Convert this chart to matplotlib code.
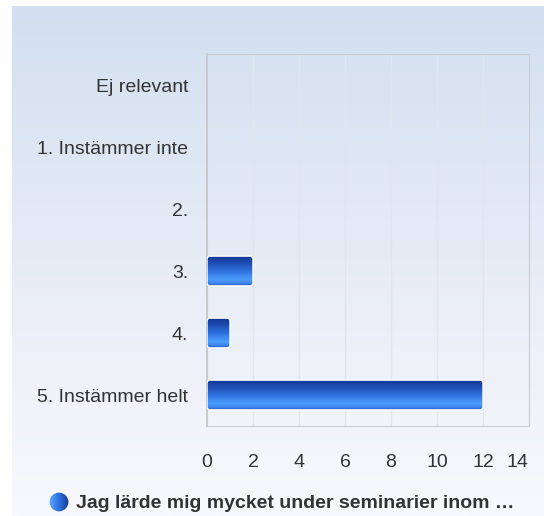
import numpy as np
import matplotlib
matplotlib.use("Agg")
import matplotlib.pyplot as plt
from matplotlib.colors import LinearSegmentedColormap
from matplotlib.patches import FancyBboxPatch, Circle
from matplotlib.transforms import ScaledTranslation

plt.rcParams['font.family'] = ['Liberation Sans', 'DejaVu Sans']

categories = ["Ej relevant", "1. Instämmer inte", "2.", "3.", "4.", "5. Instämmer helt"]
counts = [0, 0, 0, 2, 1, 12]
xticks = [0, 2, 4, 6, 8, 10, 12, 14]
series_name = "Jag lärde mig mycket under seminarier inom …"

W, H = 544, 516
fig = plt.figure(figsize=(W / 100, H / 100), dpi=100)
fig.patch.set_facecolor("white")

# background panel with vertical gradient
bg = fig.add_axes([12 / W, 0, 1 - 12 / W, 510 / H], zorder=0)
bg_cmap = LinearSegmentedColormap.from_list("bg", ["#d3dff0", "#e6ecf6", "#f8f9fc"])
bg.imshow(np.linspace(0, 1, 256).reshape(-1, 1), aspect="auto", cmap=bg_cmap,
          extent=(0, 1, 0, 1), origin="upper")
bg.set_axis_off()

# plot area
ax = fig.add_axes([207 / W, (H - 426) / H, 322 / W, 372 / H], zorder=1)
ax.patch.set_alpha(0)
ypos = np.arange(len(categories))[::-1]
bar_h = 0.48
bars = ax.barh(ypos, counts, height=bar_h, color="none", edgecolor="none")

bar_cmap = LinearSegmentedColormap.from_list(
    "bar", [(0.0, "#133892"), (0.2, "#1d4aae"), (0.5, "#2f70de"),
            (0.78, "#4b9dfc"), (0.9, "#3f89ef"), (1.0, "#2a5fc6")])
grad = np.linspace(0, 1, 64).reshape(-1, 1)
for b in bars:
    w = b.get_width()
    if w <= 0:
        continue
    x0, y0, hh = b.get_x(), b.get_y(), b.get_height()
    shape = FancyBboxPatch((x0, y0), w, hh,
                           boxstyle="round,pad=0,rounding_size=0.13",
                           mutation_aspect=23 / 62, transform=ax.transData,
                           facecolor="none", edgecolor="white", lw=1.0, zorder=4)
    ax.add_patch(shape)
    im = ax.imshow(grad, aspect="auto", cmap=bar_cmap, origin="upper",
                   extent=(x0, x0 + w, y0, y0 + hh), zorder=3)
    im.set_clip_path(shape)

ax.set_xlim(0, 14)
ax.set_ylim(-0.5, len(categories) - 0.5)
ax.set_xticks(xticks)
ax.set_yticks(ypos)
ax.set_yticklabels(categories)
ax.tick_params(length=0, labelsize=14, labelcolor="#333333")
ax.tick_params(axis="x", pad=20)
ax.tick_params(axis="y", pad=13.5)
ax.grid(axis="x", color="#e2e5ea", lw=1)
ax.set_axisbelow(True)
for s in ["top", "right", "bottom"]:
    ax.spines[s].set_color("#cccccc")
ax.spines["left"].set_color("#c4c4c4")
ax.spines["left"].set_linewidth(1.2)

# last x label pulled inside the chart edge
fig.canvas.draw()
last = ax.get_xticklabels()[-1]
last.set_transform(last.get_transform() + ScaledTranslation(-12 / 100, 0, fig.dpi_scale_trans))

# legend
lax = fig.add_axes([49 / W, (H - 512) / H, 20 / W, 20 / H], zorder=2)
lax.set_xlim(0, 1)
lax.set_ylim(0, 1)
lax.set_axis_off()
circ = Circle((0.5, 0.5), 0.47, transform=lax.transData, facecolor="none", edgecolor="none")
lax.add_patch(circ)
leg_cmap = LinearSegmentedColormap.from_list("leg", ["#5aa8ff", "#2f6fe0", "#133a9a"])
lim = lax.imshow(np.linspace(0, 1, 64).reshape(1, -1), aspect="auto", cmap=leg_cmap,
                 extent=(0, 1, 0, 1))
lim.set_clip_path(circ)
fig.text(76 / W, 1 - 503 / H, series_name, fontsize=14, fontweight="bold",
         color="#333333", va="center", ha="left")

fig.savefig("out.png", dpi=100)
